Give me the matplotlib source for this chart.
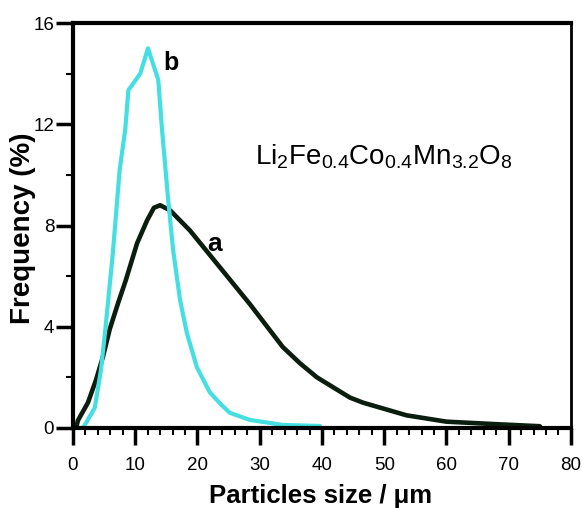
#!/usr/bin/env python3
"""Particle size distribution of Li2Fe0.4Co0.4Mn3.2O8, curves a and b."""
import matplotlib
matplotlib.use("Agg")
import matplotlib.pyplot as plt
from matplotlib.ticker import MultipleLocator

# curve a (black)
size_a = [0.5, 0.8, 2.4, 3.7, 4.8, 5.9, 7.2, 8.5, 10.3, 11.9, 13.0, 14.0,
          15.6, 18.8, 23.1, 28.4, 33.7, 36.5, 39.2, 44.5, 46.6, 53.6, 60.0,
          68.0, 75.0]
freq_a = [0.0, 0.3, 1.0, 1.9, 2.8, 3.9, 4.9, 5.85, 7.3, 8.2, 8.7, 8.8,
          8.6, 7.8, 6.5, 4.9, 3.2, 2.55, 2.0, 1.2, 1.0, 0.5, 0.25,
          0.15, 0.07]

# curve b (cyan)
size_b = [1.6, 2.1, 3.5, 4.5, 5.2, 6.0, 6.4, 7.5, 8.4, 8.9, 9.5, 10.8, 12.05,
          13.7, 14.3, 15.3, 16.1, 17.2, 18.3, 19.9, 22.0, 23.9, 25.2, 28.4,
          33.7, 39.7]
freq_b = [0.0, 0.2, 0.8, 2.3, 3.9, 5.9, 6.9, 10.2, 11.8, 13.35, 13.55, 14.0,
          15.0, 13.75, 11.8, 9.0, 7.0, 5.06, 3.75, 2.4, 1.4, 0.9, 0.6, 0.32,
          0.12, 0.08]

SANS = ["Liberation Sans", "DejaVu Sans"]


def main():
    plt.rcParams["mathtext.fontset"] = "custom"
    plt.rcParams["mathtext.rm"] = "Liberation Sans"
    plt.rcParams["mathtext.it"] = "Liberation Sans"

    fig = plt.figure(figsize=(5.82, 5.08), dpi=100)
    ax = fig.add_axes([0.1254, 0.1575, 0.8556, 0.7972])

    ax.plot(size_a, freq_a, color="#0b1d0e", lw=3.3, solid_capstyle="round")
    ax.plot(size_b, freq_b, color="#45dfe2", lw=3.0, solid_capstyle="round")

    ax.set_xlim(0, 80)
    ax.set_ylim(0, 16)
    ax.xaxis.set_major_locator(MultipleLocator(10))
    ax.xaxis.set_minor_locator(MultipleLocator(2))
    ax.yaxis.set_major_locator(MultipleLocator(4))
    ax.yaxis.set_minor_locator(MultipleLocator(2))
    ax.tick_params(which="major", direction="out", length=12, width=2.5,
                   labelsize=13.5)
    ax.tick_params(which="minor", direction="out", length=5, width=1.5)
    ax.tick_params(axis="x", which="major", pad=9)
    ax.tick_params(axis="y", which="major", pad=1.5)
    for lab in ax.get_xticklabels() + ax.get_yticklabels():
        lab.set_family(SANS)

    for side, w in [("left", 3.0), ("bottom", 3.0), ("top", 3.0), ("right", 2.0)]:
        ax.spines[side].set_linewidth(w)

    fig.text(0.551, 0.0098, "Particles size / \u03bcm", fontsize=18.5,
             fontweight="bold", family=SANS, ha="center", va="baseline")
    fig.text(0.040, 0.551, "Frequency (%)", fontsize=20, fontweight="bold",
             family=SANS, ha="center", va="center", rotation=90)

    ax.text(14.5, 14.15, "b", fontsize=18, fontweight="bold", family=SANS,
            va="baseline")
    ax.text(21.5, 7.0, "a", fontsize=19, fontweight="bold", family=SANS,
            va="baseline")
    ax.text(29.2, 10.4,
            r"Li$_2$Fe$_{0.4}$Co$_{0.4}$Mn$_{3.2}$O$_8$",
            fontsize=20, family=SANS, va="baseline", ha="left")

    fig.savefig("out.png", dpi=100)


if __name__ == "__main__":
    main()
